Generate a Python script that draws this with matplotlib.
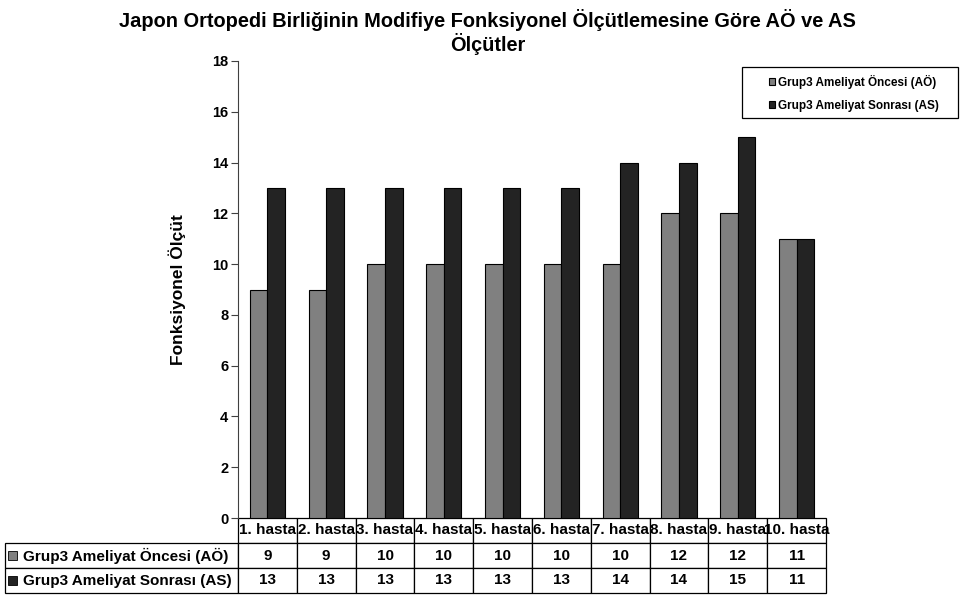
import matplotlib
matplotlib.use("Agg")
import matplotlib.pyplot as plt
from matplotlib.patches import Rectangle
import numpy as np

plt.rcParams['font.family'] = ['Liberation Sans', 'DejaVu Sans']

categories = ["1. hasta", "2. hasta", "3. hasta", "4. hasta", "5. hasta",
              "6. hasta", "7. hasta", "8. hasta", "9. hasta", "10. hasta"]
series_names = ["Grup3 Ameliyat Öncesi (AÖ)", "Grup3 Ameliyat Sonrası (AS)"]
pre_values = [9, 9, 10, 10, 10, 10, 10, 12, 12, 11]
post_values = [13, 13, 13, 13, 13, 13, 14, 14, 15, 11]
colors = ["#808080", "#232323"]
title = "Japon Ortopedi Birliğinin Modifiye Fonksiyonel Ölçütlemesine Göre AÖ ve AS\nÖlçütler"
ylabel = "Fonksiyonel Ölçüt"

fig = plt.figure(figsize=(9.64, 5.96), dpi=100)
ax = fig.add_axes([238/964, 78/596, 588/964, 457/596])

x = np.arange(len(categories)) + 0.5
w = 0.3
b1 = ax.bar(x - w/2, pre_values, w, color=colors[0], edgecolor="black", linewidth=0.8, label=series_names[0])
b2 = ax.bar(x + w/2, post_values, w, color=colors[1], edgecolor="black", linewidth=0.8, label=series_names[1])

ax.set_xlim(0, len(categories))
ax.set_ylim(0, 18)
ax.set_yticks(np.arange(0, 19, 2))
ax.set_xticks([])
for s in ["top", "right", "bottom"]:
    ax.spines[s].set_visible(False)
ax.spines["left"].set_color("#404040")
ax.tick_params(axis="y", direction="out", length=5, pad=2, labelsize=10.5,
               colors="#404040", labelcolor="black")
for t in ax.get_yticklabels():
    t.set_fontweight("bold")
ax.set_ylabel(ylabel, fontsize=12.5, fontweight="bold", labelpad=19)

fig.suptitle(title, x=0.506, y=0.985, fontsize=14.4, fontweight="bold", linespacing=1.12)

# data table (widths/heights given in axes units so bbox scale is 1)
cell_text = [[str(v) for v in pre_values], [str(v) for v in post_values]]
row_labels = ["    " + n for n in series_names]
row_h = 25 / 457
tbl_h = 3 * row_h
label_w = (238 - 5) / 588
col_w = 1.0 / len(categories)
tbl = ax.table(cellText=cell_text, rowLabels=row_labels, colLabels=categories,
               colWidths=[col_w] * len(categories),
               cellLoc="center", rowLoc="left", colLoc="center",
               bbox=[0, -tbl_h, 1, tbl_h])
tbl.auto_set_font_size(False)
tbl._autoColumns = []
for (r, c), cell in tbl.get_celld().items():
    cell.set_linewidth(0.9)
    cell.set_edgecolor("black")
    cell.set_height(row_h)
    cell.get_text().set_fontweight("bold")
    if c == -1:
        cell.set_width(label_w)
        cell.PAD = 0.005
    else:
        cell.set_width(col_w)
    cell.get_text().set_fontsize(11)

# color keys in table row labels
for i, col in enumerate(colors):
    yc = -(25 + 25 * i + 12.5) / 457
    sq_w = 9 / 588
    sq_h = 9 / 457
    ax.add_patch(Rectangle(((8 - 238) / 588, yc - sq_h / 2), sq_w, sq_h,
                           transform=ax.transAxes, clip_on=False, zorder=5,
                           facecolor=col, edgecolor="black", linewidth=0.6))

# legend with separate frame
fig.patches.append(Rectangle((742/964, 1 - 118/596), (958 - 742)/964, 51/596,
                             transform=fig.transFigure, fill=False,
                             edgecolor="black", linewidth=0.9))
leg = fig.legend(handles=[b1, b2], labels=series_names, loc="upper left",
                 bbox_to_anchor=(769/964, 1 - 75/596),
                 prop={"weight": "bold", "size": 8.5},
                 frameon=False,
                 handlelength=0.5, handleheight=0.5, handletextpad=0.3,
                 borderpad=0, labelspacing=0.9, borderaxespad=0)

fig.savefig("out.png", dpi=100)
